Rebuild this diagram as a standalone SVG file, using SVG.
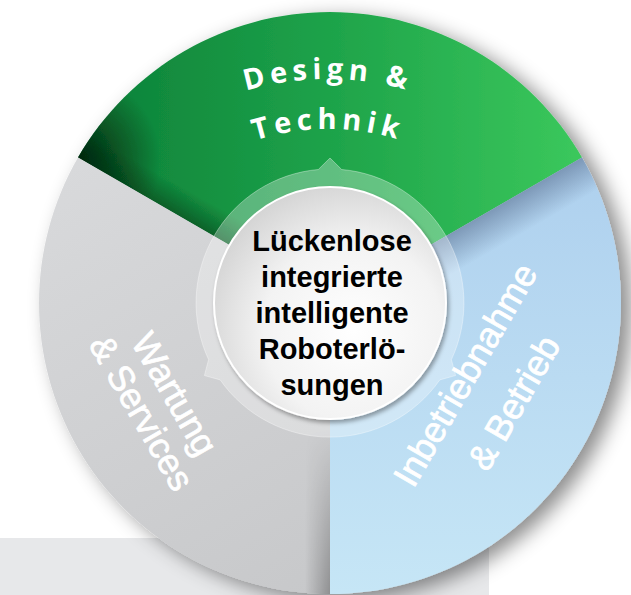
<svg xmlns="http://www.w3.org/2000/svg" width="631" height="595" viewBox="0 0 631 595">
<defs>
<style>
.lbl{font-family:"Open Sans","DejaVu Sans",sans-serif;font-weight:700;font-size:29px;fill:#fff;letter-spacing:5px}
.seg{font-family:"Liberation Sans",Arial,sans-serif;font-size:36px;fill:#fff;stroke:#fff;stroke-width:0.7px;text-anchor:middle}
.ctr{font-family:"Liberation Sans",Arial,sans-serif;font-weight:bold;font-size:29px;fill:#000;text-anchor:middle}
</style>
<filter id="sh" x="-20%" y="-20%" width="140%" height="140%">
<feDropShadow dx="10" dy="6" stdDeviation="10" flood-color="#000" flood-opacity="0.45"/>
</filter>
<filter id="sh2" x="-20%" y="-20%" width="140%" height="140%">
<feDropShadow dx="2" dy="3" stdDeviation="2" flood-color="#000" flood-opacity="0.35"/>
</filter>
<linearGradient id="gGreen" gradientUnits="userSpaceOnUse" x1="78" y1="0" x2="582" y2="0">
<stop offset="0" stop-color="#0b7f38"/>
<stop offset="0.5" stop-color="#1ea34a"/>
<stop offset="1" stop-color="#3bc85c"/>
</linearGradient>
<linearGradient id="gBlue" gradientUnits="userSpaceOnUse" x1="0" y1="160" x2="0" y2="594">
<stop offset="0" stop-color="#aed0ee"/>
<stop offset="1" stop-color="#c6e6f6"/>
</linearGradient>
<linearGradient id="gGray" gradientUnits="userSpaceOnUse" x1="80" y1="160" x2="330" y2="594">
<stop offset="0" stop-color="#d8d9db"/>
<stop offset="1" stop-color="#c7c8ca"/>
</linearGradient>
<radialGradient id="gTip" gradientUnits="userSpaceOnUse" cx="76" cy="160" r="85">
<stop offset="0" stop-color="#001a08" stop-opacity="0.9"/>
<stop offset="1" stop-color="#001a08" stop-opacity="0"/>
</radialGradient>
<linearGradient id="gEdgeG" gradientUnits="userSpaceOnUse" x1="150" y1="199" x2="163" y2="176">
<stop offset="0" stop-color="#002a0e" stop-opacity="0.45"/>
<stop offset="1" stop-color="#002a0e" stop-opacity="0"/>
</linearGradient>
<linearGradient id="gEdgeB" gradientUnits="userSpaceOnUse" x1="500" y1="205" x2="518" y2="236">
<stop offset="0" stop-color="#4a5f80" stop-opacity="0.5"/>
<stop offset="1" stop-color="#4a5f80" stop-opacity="0"/>
</linearGradient>
<linearGradient id="gEdgeS" gradientUnits="userSpaceOnUse" x1="330" y1="0" x2="305" y2="0">
<stop offset="0" stop-color="#000" stop-opacity="0.28"/>
<stop offset="1" stop-color="#000" stop-opacity="0"/>
</linearGradient>
<linearGradient id="gEdgeSv" gradientUnits="userSpaceOnUse" x1="0" y1="430" x2="0" y2="594">
<stop offset="0" stop-color="#000"/>
<stop offset="1" stop-color="#fff"/>
</linearGradient>
<mask id="mS"><rect x="0" y="0" width="631" height="595" fill="url(#gEdgeSv)"/></mask>
<radialGradient id="gInner" cx="0.6" cy="0.62" r="0.7">
<stop offset="0" stop-color="#ffffff"/>
<stop offset="0.55" stop-color="#f3f3f3"/>
<stop offset="1" stop-color="#cfcfcf"/>
</radialGradient>
<path id="arc1" d="M76,224.5 A291,291 0 0 1 580,224.5"/>
<path id="arc2" d="M119.3,249.5 A241,241 0 0 1 536.7,249.5"/>
</defs>

<rect x="0" y="0" width="631" height="595" fill="#ffffff"/>
<rect x="0" y="538" width="489" height="57" fill="#e7e8ea"/>

<g id="wheel" filter="url(#sh)">
<g id="sector-design">
<path d="M330,303 L78,157.5 A291,291 0 0 1 582,157.5 Z" fill="url(#gGreen)"/>
<path d="M330,303 L78,157.5 A291,291 0 0 1 582,157.5 Z" fill="url(#gTip)"/>
<path d="M330,303 L78,157.5 A291,291 0 0 1 582,157.5 Z" fill="url(#gEdgeG)"/>
</g>
<g id="sector-inbetrieb">
<path d="M330,303 L582,157.5 A291,291 0 0 1 330,594 Z" fill="url(#gBlue)"/>
<path d="M330,303 L582,157.5 A291,291 0 0 1 330,594 Z" fill="url(#gEdgeB)"/>
</g>
<g id="sector-wartung">
<path d="M330,303 L330,594 A291,291 0 0 1 78,157.5 Z" fill="url(#gGray)"/>
<path d="M330,303 L330,594 A291,291 0 0 1 78,157.5 Z" fill="url(#gEdgeS)" mask="url(#mS)"/>
</g>
</g>

<g id="ring">
<path d="M341.7,169.5 A134,134 0 0 1 451.4,359.6 L455.6,375.5 L439.8,379.9 A134,134 0 0 1 220.2,379.9 L204.4,375.5 L208.6,359.6 A134,134 0 0 1 318.3,169.5 L330,158 Z" fill="#ffffff" fill-opacity="0.3" stroke="#ffffff" stroke-opacity="0.35" stroke-width="1"/>
</g>

<g id="center">
<circle cx="330" cy="303" r="116" fill="url(#gInner)" stroke="#ffffff" stroke-width="2" filter="url(#sh2)"/>
<text class="ctr" x="332" y="251">Lückenlose</text>
<text class="ctr" x="332" y="287">integrierte</text>
<text class="ctr" x="332" y="323">intelligente</text>
<text class="ctr" x="332" y="359">Roboterlö-</text>
<text class="ctr" x="332" y="395">sungen</text>
</g>

<g id="label-design">
<text class="lbl"><textPath href="#arc1" startOffset="50%" text-anchor="middle">Design &amp;</textPath></text>
<text class="lbl"><textPath href="#arc2" startOffset="50%" text-anchor="middle">Technik</textPath></text>
</g>

<g id="label-wartung" transform="translate(164,400) rotate(60)">
<text class="seg" x="0" y="0">Wartung</text>
<text class="seg" x="0" y="38">&amp; Services</text>
</g>

<g id="label-inbetrieb" transform="translate(476,381) rotate(-60)">
<text class="seg" x="0" y="0">Inbetriebnahme</text>
<text class="seg" x="0" y="56">&amp; Betrieb</text>
</g>
</svg>
